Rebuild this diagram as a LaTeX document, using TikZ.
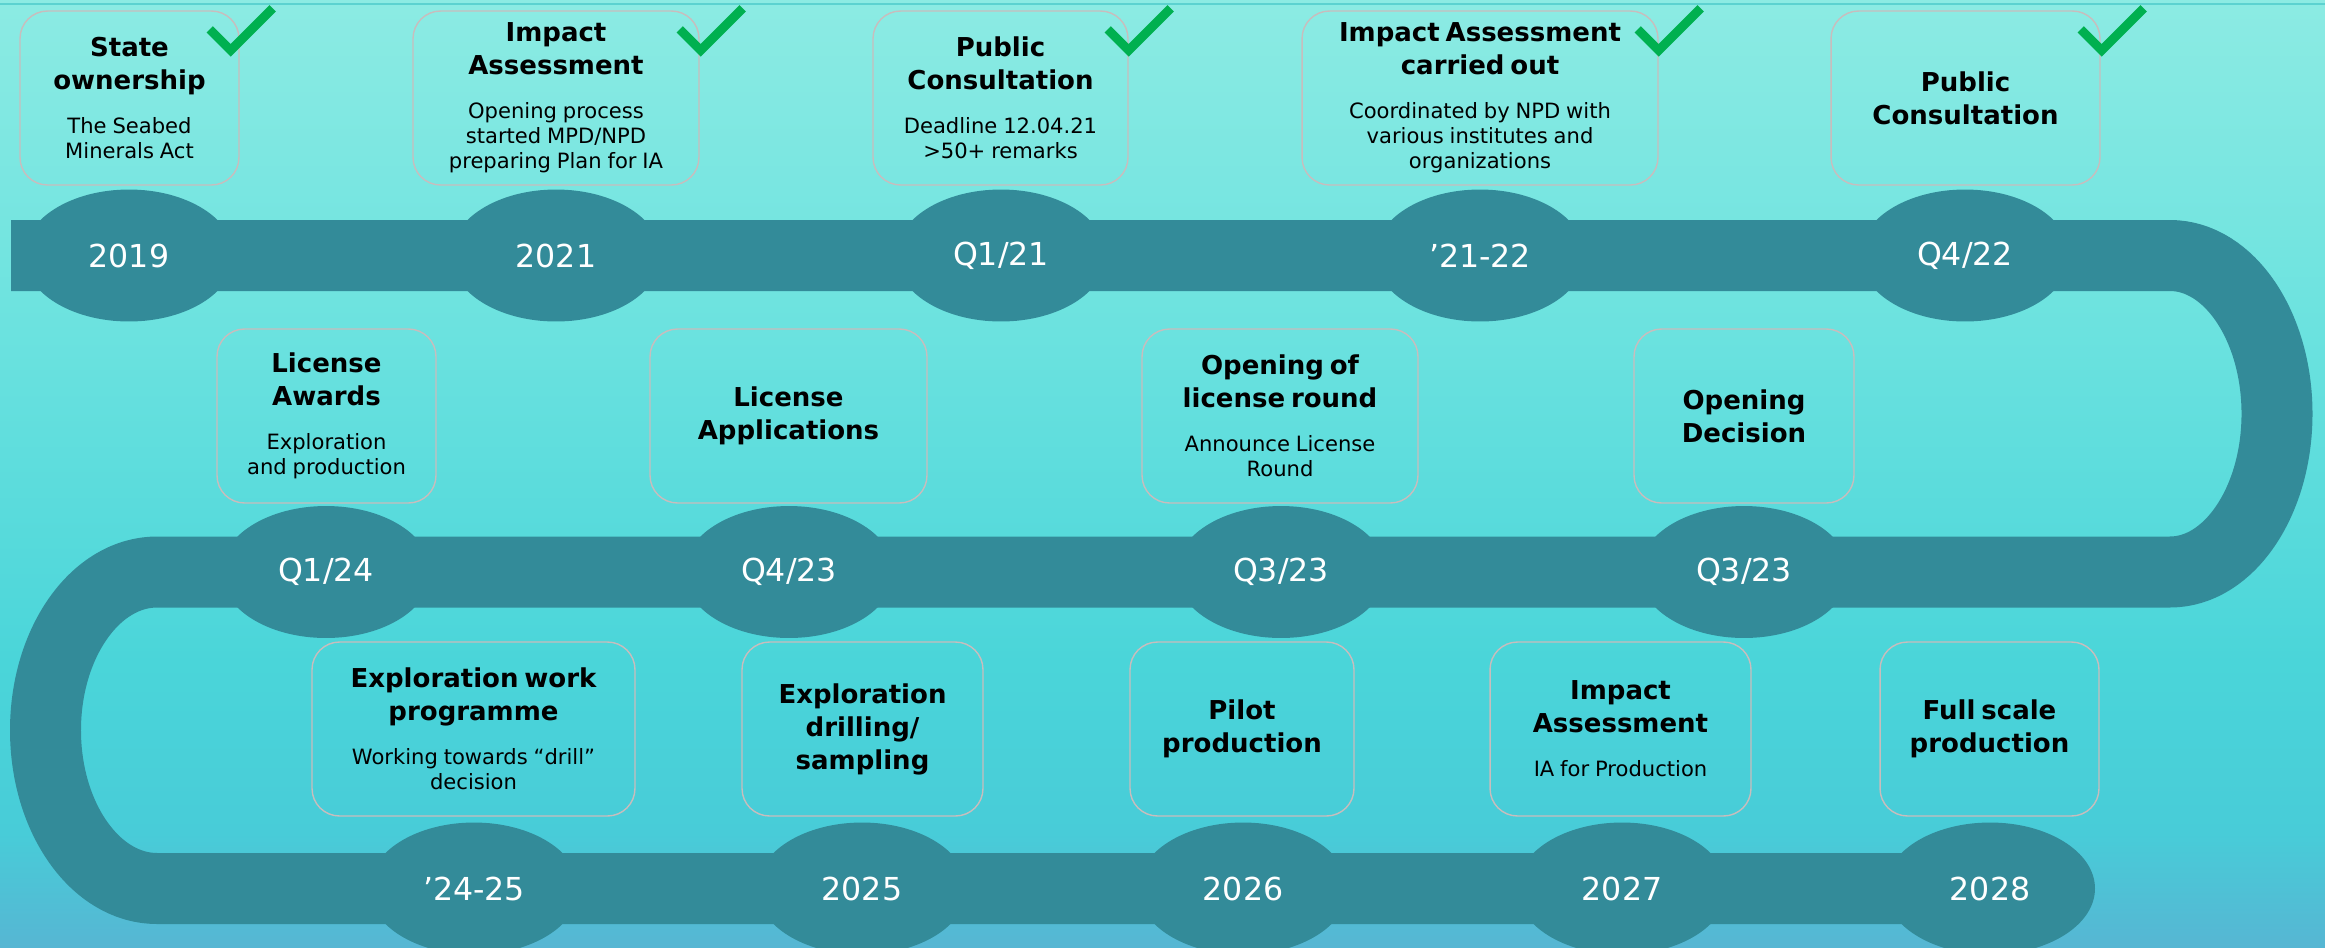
\documentclass[tikz,border=0pt]{standalone}
\usepackage{fontspec}
\setmainfont{DejaVu Sans}
\usetikzlibrary{shapes.geometric}
\definecolor{band}{HTML}{338B99}
\definecolor{boxline}{HTML}{C8BDBD}
\definecolor{tickgreen}{HTML}{00B050}
\definecolor{bgA}{HTML}{8CEBE3}
\definecolor{bgB}{HTML}{6BE2DF}
\definecolor{bgC}{HTML}{4AD5D9}
\definecolor{bgD}{HTML}{48CCD8}
\definecolor{bgE}{HTML}{56B6D3}
\definecolor{toprule}{HTML}{5CD2D0}
\pgfdeclareverticalshading{bgshade}{100bp}{color(0bp)=(bgE); color(25bp)=(bgE); color(31bp)=(bgD); color(40bp)=(bgC); color(57.5bp)=(bgB); color(75bp)=(bgA); color(100bp)=(bgA)}
\pgfdeclarelayer{back}
\pgfdeclarelayer{mid}
\pgfsetlayers{back,mid,main}
\newcommand\boxtitle[1]{{\fontsize{14.8}{18.8}\selectfont\bfseries #1\par}}
\newcommand\boxbody[1]{\vspace{11pt}{\fontsize{12}{14.2}\selectfont #1\par}}
\tikzset{
  box/.style={draw=boxline, line width=0.8pt, rounded corners=0.55cm, minimum height=3.48cm, align=center, inner sep=0pt},
  year/.style={ellipse, fill=band, minimum width=4.2cm, minimum height=2.64cm, inner sep=0pt, text=white, font=\fontsize{18}{20}\selectfont},
  bandline/.style={draw=band, line width=1.42cm, line cap=butt, line join=round},
  tickmark/.style={draw=tickgreen, line width=0.18cm, line cap=butt, line join=miter},
  thinrule/.style={draw=toprule, line width=0.04cm}
}
\begin{document}
\begin{tikzpicture}[x=0.02cm, y=-0.02cm]
\useasboundingbox (0,0) rectangle (2325,947);
\begin{pgfonlayer}{back}
\shade[shading=bgshade] (0,0) rectangle (2325,947);
\draw[thinrule] (0,4) -- (2325,4);
\end{pgfonlayer}

% year ellipses
\node[year] (y2019) at (129,255.5) {2019};
\node[year] (y2021) at (556,255.5) {2021};
\node[year] (q121) at (1001,255.5) {Q1/21};
\node[year] (y2122) at (1480,255.5) {’21-22};
\node[year] (q422) at (1965,255.5) {Q4/22};
\node[year] (q124) at (326,572) {Q1/24};
\node[year] (q423) at (789,572) {Q4/23};
\node[year] (q323a) at (1281,572) {Q3/23};
\node[year] (q323b) at (1744,572) {Q3/23};
\node[year] (y2425) at (474,888.5) {’24-25};
\node[year] (y2025) at (862,888.5) {2025};
\node[year] (y2026) at (1243,888.5) {2026};
\node[year] (y2027) at (1622,888.5) {2027};
\node[year] (y2028) at (1990,888.5) {2028};

\coordinate (bandstart) at (11,255.5);
\coordinate (rt) at (2170,255.5);
\coordinate (lt) at (157,572);

\begin{pgfonlayer}{mid}
\draw[bandline] (bandstart) -- (y2019.center) -- (y2021.center) -- (q121.center) -- (y2122.center) -- (q422.center) -- (rt)
  arc[start angle=-90, end angle=90, x radius=107, y radius=158.25]
  -- (q323b.center) -- (q323a.center) -- (q423.center) -- (q124.center) -- (lt)
  arc[start angle=-90, end angle=-270, x radius=111.5, y radius=158.25]
  -- (y2425.center) -- (y2025.center) -- (y2026.center) -- (y2027.center) -- (y2028.center);
\end{pgfonlayer}

% top row boxes
\node[box, minimum width=4.38cm, text width=4.2cm] (b1) at (129.5,98) {\boxtitle{State\\ownership}\boxbody{The Seabed\\Minerals Act}};
\node[box, minimum width=5.72cm, text width=5.5cm] (b2) at (556,98) {\boxtitle{Impact\\Assessment}\boxbody{Opening process\\started MPD/NPD\\preparing Plan for IA}};
\node[box, minimum width=5.10cm, text width=4.9cm] (b3) at (1000.5,98) {\boxtitle{Public\\Consultation}\boxbody{Deadline 12.04.21\\>50+ remarks}};
\node[box, minimum width=7.12cm, text width=6.9cm] (b4) at (1480,98) {\boxtitle{Impact Assessment\\carried out}\boxbody{Coordinated by NPD with\\various institutes and\\organizations}};
\node[box, minimum width=5.38cm, text width=5.2cm] (b5) at (1965.5,98) {\boxtitle{Public\\Consultation}};

% middle row boxes
\node[box, minimum width=4.38cm, text width=4.2cm] (m1) at (326.5,416) {\boxtitle{License\\Awards}\boxbody{Exploration\\and production}};
\node[box, minimum width=5.54cm, text width=5.3cm] (m2) at (788.5,416) {\boxtitle{License\\Applications}};
\node[box, minimum width=5.52cm, text width=5.3cm] (m3) at (1280,416) {\boxtitle{Opening of\\license round}\boxbody{Announce License\\Round}};
\node[box, minimum width=4.40cm, text width=4.2cm] (m4) at (1744,416) {\boxtitle{Opening\\Decision}};

% bottom row boxes
\node[box, minimum width=6.46cm, text width=6.2cm] (l1) at (473.5,729) {\boxtitle{Exploration work\\programme}\boxbody{Working towards “drill”\\decision}};
\node[box, minimum width=4.82cm, text width=4.6cm] (l2) at (862.5,729) {\boxtitle{Exploration\\drilling/\\sampling}};
\node[box, minimum width=4.48cm, text width=4.3cm] (l3) at (1242,729) {\boxtitle{Pilot\\production}};
\node[box, minimum width=5.22cm, text width=5.0cm] (l4) at (1620.5,729) {\boxtitle{Impact\\Assessment}\boxbody{IA for Production}};
\node[box, minimum width=4.38cm, text width=4.2cm] (l5) at (1989.5,729) {\boxtitle{Full scale\\production}};

% check marks
\draw[tickmark] ([shift={(-30,19)}]b1.north east) -- ++(21,21) -- ++(42,-42);
\draw[tickmark] ([shift={(-20,19)}]b2.north east) -- ++(21,21) -- ++(42,-42);
\draw[tickmark] ([shift={(-21,19)}]b3.north east) -- ++(21,21) -- ++(42,-42);
\draw[tickmark] ([shift={(-21,19)}]b4.north east) -- ++(21,21) -- ++(42,-42);
\draw[tickmark] ([shift={(-20,19)}]b5.north east) -- ++(21,21) -- ++(42,-42);
\end{tikzpicture}
\end{document}
